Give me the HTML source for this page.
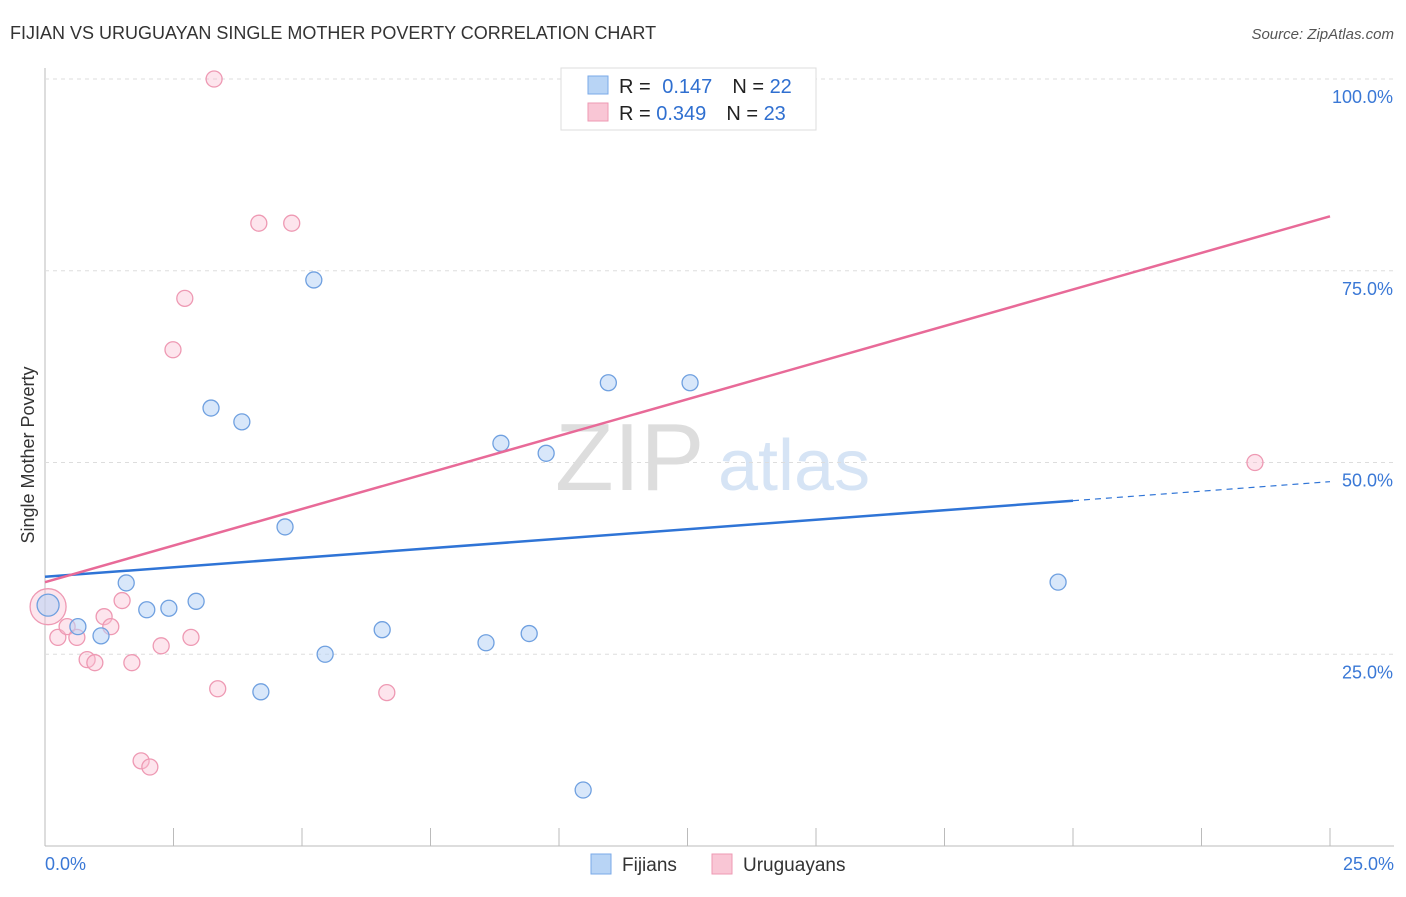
<!DOCTYPE html>
<html><head><meta charset="utf-8"><style>
body{margin:0;background:#fff;font-family:"Liberation Sans",sans-serif}
svg text{font-family:"Liberation Sans",sans-serif}
</style></head><body>
<svg id="c" width="1406" height="892" xmlns="http://www.w3.org/2000/svg">
<text x="10" y="39" font-size="18" fill="#333">FIJIAN VS URUGUAYAN SINGLE MOTHER POVERTY CORRELATION CHART</text>
<text x="1394" y="39" font-size="15" fill="#555" font-style="italic" text-anchor="end">Source: ZipAtlas.com</text>
<text x="34" y="455" font-size="18" fill="#333" transform="rotate(-90 34 455)" text-anchor="middle">Single Mother Poverty</text>
<text x="555" y="490" font-size="96" fill="#ddd" font-family="Liberation Serif">ZIP</text>
<text x="718" y="490" font-size="72" fill="#d6e4f5">atlas</text>
<g id="grid"></g><g id="pts"></g><g id="lines"></g>
<g>
<rect x="561" y="68" width="255" height="62" fill="#fff" stroke="#ddd"/>
<rect x="588" y="76" width="20" height="18" fill="#b8d4f5" stroke="#7aaae8"/>
<rect x="588" y="103" width="20" height="18" fill="#f9c6d5" stroke="#ee99b3"/>
<text x="619" y="93" font-size="20" fill="#222">R = <tspan fill="#2f6fd0" dx="6">0.147</tspan><tspan dx="20">N = </tspan><tspan fill="#2f6fd0">22</tspan></text>
<text x="619" y="120" font-size="20" fill="#222">R = <tspan fill="#2f6fd0">0.349</tspan><tspan dx="20">N = </tspan><tspan fill="#2f6fd0">23</tspan></text>
</g>
<g>
<rect x="591" y="854" width="20" height="20" fill="#b8d4f5" stroke="#7aaae8"/>
<text x="622" y="871" font-size="19" fill="#333">Fijians</text>
<rect x="712" y="854" width="20" height="20" fill="#f9c6d5" stroke="#ee99b3"/>
<text x="743" y="871" font-size="19" fill="#333">Uruguayans</text>
</g>
<text x="45" y="870" font-size="18" fill="#3a78d6">0.0%</text>
<text x="1394" y="870" font-size="18" fill="#3a78d6" text-anchor="end">25.0%</text>
</svg>
<script>
const NS='http://www.w3.org/2000/svg';
const fijX=[0.06,0.64,1.09,1.58,1.98,2.41,2.94,3.23,3.83,4.2,4.67,5.23,5.45,6.56,8.58,8.87,9.42,9.75,10.47,10.96,12.55,19.71];
const fijY=[31.4,28.6,27.4,34.3,30.8,31.0,31.9,57.1,55.3,20.1,41.6,73.8,25.0,28.2,26.5,52.5,27.7,51.2,7.3,60.4,60.4,34.4];
const uruX=[0.06,0.25,0.43,0.62,0.82,0.97,1.15,1.28,1.5,1.69,1.87,2.04,2.26,2.49,2.72,2.84,3.29,3.36,4.16,4.8,6.65,23.54,11.2];
const uruY=[31.2,27.2,28.6,27.2,24.3,23.9,29.9,28.6,32.0,23.9,11.1,10.3,26.1,64.7,71.4,27.2,100,20.5,81.2,81.2,20.0,50.0,100];
const yTicks=[25,50,75,100];
const yTickLabels=['25.0%','50.0%','75.0%','100.0%'];
const xTicks=[0,2.5,5,7.5,10,12.5,15,17.5,20,22.5,25];
const blueLine=[35.1,47.5]; // values at x=0 and x=25
const pinkLine=[34.4,82.1];
const X0=45,X1=1330,Y0=846,Y100=79;
const sx=v=>X0+(v/25)*(X1-X0);
const sy=v=>Y0-(v/100)*(Y0-Y100);
function mk(t,a,p){const e=document.createElementNS(NS,t);for(const k in a)e.setAttribute(k,a[k]);p.appendChild(e);return e;}
const grid=document.getElementById('grid');
let ax=mk('line',{x1:X0,y1:68,x2:X0,y2:846,stroke:'#bbb'},grid);


let bx=mk('line',{x1:X0,y1:846,x2:1394,y2:846,stroke:'#bbb'},grid);


yTicks.forEach((t,i)=>{
 const g=mk('line',{x1:X0,y1:sy(t),x2:1394,y2:sy(t),stroke:'#ddd','stroke-dasharray':'4 4'},grid);
 
 
 const tx=mk('text',{x:1393,y:sy(t)+24,'font-size':18,fill:'#3a78d6','text-anchor':'end'},grid);
 tx.textContent=yTickLabels[i];
 
 
});
xTicks.forEach(t=>{
 const l=mk('line',{x1:sx(t),y1:828,x2:sx(t),y2:846,stroke:'#bbb'},grid);
 
 
});
const pts=document.getElementById('pts');
uruX.forEach((x,i)=>{
 const c=mk('circle',{cx:sx(x),cy:sy(uruY[i]),r:i==0?18:8,fill:'rgba(249,190,210,0.4)',stroke:'#ee99b3','stroke-width':1.3},pts);
 
 
});
fijX.forEach((x,i)=>{
 const c=mk('circle',{cx:sx(x),cy:sy(fijY[i]),r:i==0?11:8,fill:'rgba(184,212,245,0.55)',stroke:'#6fa0e0','stroke-width':1.3},pts);
 
 
});
const lines=document.getElementById('lines');
const bAt=x=>blueLine[0]+(blueLine[1]-blueLine[0])*x/25;
let b1=mk('line',{x1:sx(0),y1:sy(bAt(0)),x2:sx(20),y2:sy(bAt(20)),stroke:'#2f74d6','stroke-width':2.5},lines);


let b2=mk('line',{x1:sx(20),y1:sy(bAt(20)),x2:sx(25),y2:sy(bAt(25)),stroke:'#2f74d6','stroke-width':1.2,'stroke-dasharray':'6 5'},lines);


let p1=mk('line',{x1:sx(0),y1:sy(pinkLine[0]),x2:sx(25),y2:sy(pinkLine[1]),stroke:'#e86a98','stroke-width':2.5},lines);


</script>
</body></html>
